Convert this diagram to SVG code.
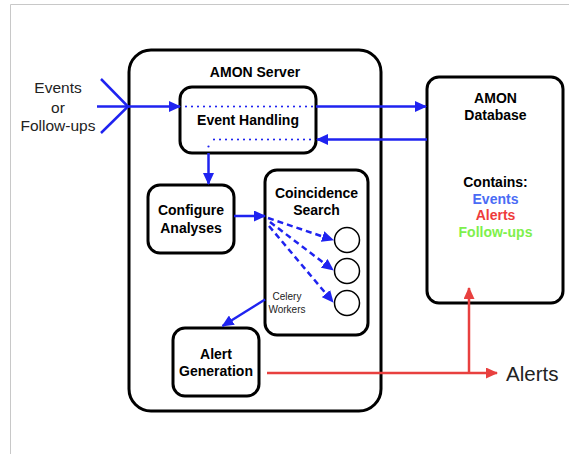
<svg xmlns="http://www.w3.org/2000/svg" width="569" height="455" viewBox="0 0 569 455">
<style>
.box{fill:#fff;stroke:#000;stroke-width:3}
.b{font-family:"Liberation Sans",Arial,sans-serif;font-weight:bold;font-size:14px;text-anchor:middle;fill:#000}
.l{font-family:"Liberation Sans",Arial,sans-serif;fill:#222;text-anchor:middle}
.blue{stroke:#1f23f0;stroke-width:2.5;fill:none}
.dots{stroke:#1f23f0;stroke-width:2.2;stroke-linecap:round;stroke-dasharray:0 6;fill:none}
.dash{stroke:#1f23f0;stroke-width:2.5;stroke-dasharray:6 4;fill:none}
.red{stroke:#e8403f;stroke-width:2.5;fill:none}
</style>
<defs>
<marker id="ab" markerUnits="userSpaceOnUse" markerWidth="12" markerHeight="11" refX="11" refY="5.5" orient="auto"><path d="M0,0 L12,5.5 L0,11 z" fill="#1f23f0"/></marker>
<marker id="ar" markerUnits="userSpaceOnUse" markerWidth="12" markerHeight="11" refX="11" refY="5.5" orient="auto"><path d="M0,0 L12,5.5 L0,11 z" fill="#e8403f"/></marker>
</defs>
<rect x="0" y="0" width="569" height="455" fill="#fff"/>
<path d="M10.5,454 V4.5 H569" fill="none" stroke="#c8c8c8" stroke-width="1"/>

<g id="server">
<rect class="box" x="129" y="50" width="252" height="361" rx="22"/>
<text class="b" x="255" y="77">AMON Server</text>
</g>
<g id="event-handling">
<rect class="box" x="180" y="87" width="136" height="66" rx="12"/>
<text class="b" x="248" y="125">Event Handling</text>
</g>
<g id="configure">
<rect class="box" x="148" y="185" width="86" height="68" rx="12"/>
<text class="b" x="191" y="215">Configure</text>
<text class="b" x="191" y="233">Analyses</text>
</g>
<g id="coincidence">
<rect class="box" x="265" y="170" width="103" height="165" rx="12"/>
<text class="b" x="316.5" y="198">Coincidence</text>
<text class="b" x="316.5" y="215">Search</text>
<circle cx="347" cy="240" r="12.5" fill="#fff" stroke="#000" stroke-width="1.5"/>
<circle cx="347" cy="271" r="12.5" fill="#fff" stroke="#000" stroke-width="1.5"/>
<circle cx="347" cy="303" r="12.5" fill="#fff" stroke="#000" stroke-width="1.5"/>
<text class="l" x="287" y="300" font-size="10">Celery</text>
<text class="l" x="287" y="313" font-size="10">Workers</text>
</g>
<g id="alert-generation">
<rect class="box" x="173" y="328" width="86" height="68" rx="12"/>
<text class="b" x="216" y="359">Alert</text>
<text class="b" x="216" y="376">Generation</text>
</g>
<g id="database">
<rect class="box" x="427" y="77" width="136" height="226" rx="12"/>
<text class="b" x="495.5" y="103">AMON</text>
<text class="b" x="495.5" y="119.5">Database</text>
<text class="b" x="495.5" y="187">Contains:</text>
<text class="b" x="495.5" y="203.5" fill="#4a6cf5" style="fill:#4a6cf5">Events</text>
<text class="b" x="495.5" y="220" style="fill:#ee3b3b">Alerts</text>
<text class="b" x="495.5" y="237" style="fill:#7ef04c">Follow-ups</text>
</g>
<g id="inputs">
<text class="l" x="58" y="93" font-size="15.5">Events</text>
<text class="l" x="58" y="112.5" font-size="15.5">or</text>
<text class="l" x="58" y="131" font-size="15.5">Follow-ups</text>
</g>
<g id="alerts-out">
<text class="l" x="506" y="381" font-size="20.5" style="text-anchor:start">Alerts</text>
</g>

<g id="connectors">
<path class="blue" d="M101,79 L128,106.5 L101,133"/>
<line class="blue" x1="97" y1="106.5" x2="180" y2="106.5" marker-end="url(#ab)"/>
<line class="dots" x1="186" y1="106.5" x2="316" y2="106.5"/>
<line class="blue" x1="316" y1="106.5" x2="426" y2="106.5" marker-end="url(#ab)"/>
<line class="blue" x1="427" y1="139.5" x2="317" y2="139.5" marker-end="url(#ab)"/>
<line class="dots" x1="214" y1="139.5" x2="316" y2="139.5"/>
<line class="dots" x1="208.5" y1="146.5" x2="208.5" y2="146.6"/>
<line class="blue" x1="208.5" y1="153" x2="208.5" y2="184" marker-end="url(#ab)"/>
<line class="blue" x1="234" y1="216" x2="265" y2="216" marker-end="url(#ab)"/>
<line class="dash" x1="268" y1="218" x2="333" y2="240" marker-end="url(#ab)"/>
<line class="dash" x1="270" y1="222" x2="333" y2="270" marker-end="url(#ab)"/>
<line class="dash" x1="269" y1="226" x2="333" y2="302" marker-end="url(#ab)"/>
<line class="blue" x1="265" y1="299.5" x2="222.5" y2="326" marker-end="url(#ab)"/>
<line class="red" x1="267" y1="373" x2="497" y2="373" marker-end="url(#ar)"/>
<line class="red" x1="469" y1="373" x2="469" y2="288" marker-end="url(#ar)"/>
</g>
</svg>
